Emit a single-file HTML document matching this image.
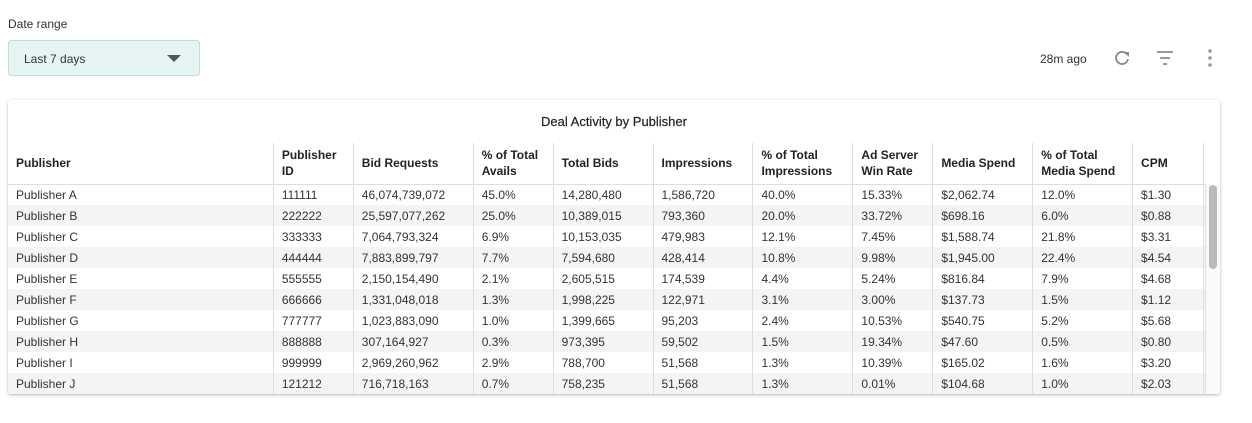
<!DOCTYPE html>
<html><head><meta charset="utf-8"><style>
*{margin:0;padding:0;box-sizing:border-box}
body{width:1252px;height:423px;background:#fff;font-family:"Liberation Sans",sans-serif;color:#222;position:relative;overflow:hidden}
.a{position:absolute}
.lbl{left:8px;top:17px;font-size:12px;color:#333}
.sel{left:8px;top:40px;width:192px;height:36px;background:#e6f5f4;border:1px solid #c5dcda;border-radius:3px}
.sel span{position:absolute;left:15px;top:11px;font-size:12px;color:#333}
.tri{position:absolute;left:158px;top:14px;width:0;height:0;border-left:7px solid transparent;border-right:7px solid transparent;border-top:7px solid #555}
.card{left:8px;top:100px;width:1212px;height:294px;border-radius:3px;box-shadow:0 1px 3px rgba(0,0,0,.3);background:#fff;overflow:hidden}
.title{position:absolute;left:0;width:100%;top:14px;text-align:center;font-size:13px;color:#222;-webkit-text-stroke:0.2px #222}
table{position:absolute;left:0;top:43px;border-collapse:collapse;font-size:12px;table-layout:fixed}
th{font-weight:bold;text-align:left;height:41px;padding:0 8px;vertical-align:middle;line-height:16px;border-left:1px solid #ddd;border-bottom:1px solid #ddd;font-size:12px}
td{height:21px;padding:0 8px;border-left:1px solid #ddd;white-space:nowrap;color:#333}
th:first-child,td:first-child{border-left:none}
tr.g td{background:#f4f4f4}
.sb{position:absolute;left:1197px;top:84px;width:15px;height:210px;border-left:1px solid #ddd;background:#fafafa}
.sb div{position:absolute;left:3px;top:1px;width:8px;height:84px;border-radius:4px;background:#bbb}
</style></head><body>
<div class="a lbl">Date range</div>
<div class="a sel"><span>Last 7 days</span><div class="tri"></div></div>
<div class="a" style="left:1040px;top:52px;font-size:12px;color:#333">28m ago</div>
<svg class="a" style="left:1112px;top:48px" width="20" height="20" viewBox="0 0 20 20"><path d="M15 6.5A6 6 0 1 0 16 11" fill="none" stroke="#888" stroke-width="1.8"/><path d="M12 4h5v5z" fill="#888"/></svg>
<svg class="a" style="left:1156px;top:49px" width="20" height="18"><rect x="1" y="2" width="16" height="2" fill="#999"/><rect x="4" y="8" width="10" height="2" fill="#999"/><rect x="7" y="14" width="4" height="2" fill="#999"/></svg>
<svg class="a" style="left:1205px;top:48px" width="10" height="20"><circle cx="5" cy="3" r="1.8" fill="#999"/><circle cx="5" cy="10" r="1.8" fill="#999"/><circle cx="5" cy="17" r="1.8" fill="#999"/></svg>
<div class="a card">
<div class="title">Deal Activity by Publisher</div>
<table>
<colgroup><col style="width:266px"><col style="width:80px"><col style="width:120px"><col style="width:80px"><col style="width:100px"><col style="width:100px"><col style="width:100px"><col style="width:80px"><col style="width:100px"><col style="width:100px"><col style="width:71px"><col style="width:15px"></colgroup>
<tr><th>Publisher</th><th>Publisher ID</th><th>Bid Requests</th><th>% of Total Avails</th><th>Total Bids</th><th>Impressions</th><th>% of Total Impressions</th><th>Ad Server Win Rate</th><th>Media Spend</th><th>% of Total Media Spend</th><th>CPM</th><th></th></tr>
<tr><td>Publisher A</td><td>111111</td><td>46,074,739,072</td><td>45.0%</td><td>14,280,480</td><td>1,586,720</td><td>40.0%</td><td>15.33%</td><td>$2,062.74</td><td>12.0%</td><td>$1.30</td><td></td></tr>
<tr class="g"><td>Publisher B</td><td>222222</td><td>25,597,077,262</td><td>25.0%</td><td>10,389,015</td><td>793,360</td><td>20.0%</td><td>33.72%</td><td>$698.16</td><td>6.0%</td><td>$0.88</td><td></td></tr>
<tr><td>Publisher C</td><td>333333</td><td>7,064,793,324</td><td>6.9%</td><td>10,153,035</td><td>479,983</td><td>12.1%</td><td>7.45%</td><td>$1,588.74</td><td>21.8%</td><td>$3.31</td><td></td></tr>
<tr class="g"><td>Publisher D</td><td>444444</td><td>7,883,899,797</td><td>7.7%</td><td>7,594,680</td><td>428,414</td><td>10.8%</td><td>9.98%</td><td>$1,945.00</td><td>22.4%</td><td>$4.54</td><td></td></tr>
<tr><td>Publisher E</td><td>555555</td><td>2,150,154,490</td><td>2.1%</td><td>2,605,515</td><td>174,539</td><td>4.4%</td><td>5.24%</td><td>$816.84</td><td>7.9%</td><td>$4.68</td><td></td></tr>
<tr class="g"><td>Publisher F</td><td>666666</td><td>1,331,048,018</td><td>1.3%</td><td>1,998,225</td><td>122,971</td><td>3.1%</td><td>3.00%</td><td>$137.73</td><td>1.5%</td><td>$1.12</td><td></td></tr>
<tr><td>Publisher G</td><td>777777</td><td>1,023,883,090</td><td>1.0%</td><td>1,399,665</td><td>95,203</td><td>2.4%</td><td>10.53%</td><td>$540.75</td><td>5.2%</td><td>$5.68</td><td></td></tr>
<tr class="g"><td>Publisher H</td><td>888888</td><td>307,164,927</td><td>0.3%</td><td>973,395</td><td>59,502</td><td>1.5%</td><td>19.34%</td><td>$47.60</td><td>0.5%</td><td>$0.80</td><td></td></tr>
<tr><td>Publisher I</td><td>999999</td><td>2,969,260,962</td><td>2.9%</td><td>788,700</td><td>51,568</td><td>1.3%</td><td>10.39%</td><td>$165.02</td><td>1.6%</td><td>$3.20</td><td></td></tr>
<tr class="g"><td>Publisher J</td><td>121212</td><td>716,718,163</td><td>0.7%</td><td>758,235</td><td>51,568</td><td>1.3%</td><td>0.01%</td><td>$104.68</td><td>1.0%</td><td>$2.03</td><td></td></tr>
</table>
<div class="sb"><div></div></div>
</div>
</body></html>
